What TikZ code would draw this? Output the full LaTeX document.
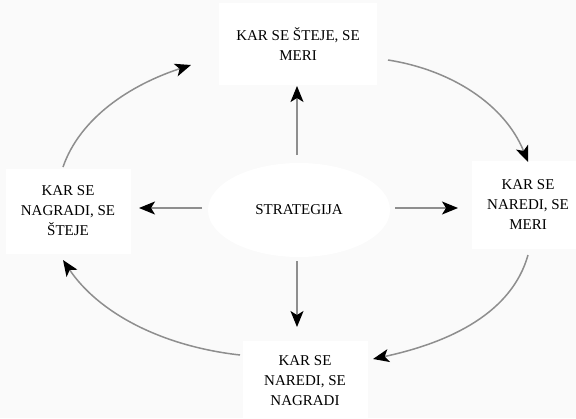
\documentclass[tikz,border=0pt]{standalone}
\usepackage{fontspec}
\setmainfont{Liberation Serif}
\usetikzlibrary{arrows.meta,shapes.geometric}
\definecolor{pagebg}{HTML}{FAFAFA}
\definecolor{linegray}{HTML}{8E8E8E}
\tikzset{
  box/.style={rectangle, fill=white, draw=none, align=center, inner sep=0pt,
    font=\fontsize{15}{20}\selectfont},
  arr/.style={draw=linegray, line width=1.5pt,
    -{Stealth[length=16pt,width=13pt,inset=4pt,color=black]}},
}
\begin{document}
\begin{tikzpicture}[x=1pt,y=-1pt]
  \fill[pagebg] (0,0) rectangle (576,418);
  \useasboundingbox (0,0) rectangle (576,418);

  % centre ellipse and the four statement boxes
  \node[ellipse, fill=white, minimum width=182pt, minimum height=94pt,
        font=\fontsize{15}{20}\selectfont] (str) at (299,210) {STRATEGIJA};
  \node[box, minimum width=158pt, minimum height=82pt] (top) at (298,44)
    {KAR SE ŠTEJE, SE\\MERI};
  \node[box, minimum width=125pt, minimum height=85pt] (left) at (68,211)
    {KAR SE\\NAGRADI, SE\\ŠTEJE};
  \node[box, minimum width=112pt, minimum height=88pt] (right) at (528,205)
    {KAR SE\\NAREDI, SE\\MERI};
  \node[box, minimum width=125pt, minimum height=80pt] (bottom) at (305,381)
    {KAR SE\\NAREDI, SE\\NAGRADI};

  % arrows out of the strategy
  \coordinate (su) at (297,155);
  \coordinate (sl) at (202,208);
  \coordinate (sr) at (395,208);
  \coordinate (sd) at (297,261);
  \draw[arr] (su) -- (297,86) coordinate (tu);
  \draw[arr] (sl) -- (139,208) coordinate (tl);
  \draw[arr] (sr) -- (458,208) coordinate (tr);
  \draw[arr] (sd) -- (297,327) coordinate (td);

  % the cycle around the boxes
  \coordinate (c1a) at (63,167);
  \coordinate (c1b) at (191,65);
  \coordinate (c2a) at (388,60);
  \coordinate (c2b) at (528,162);
  \coordinate (c3a) at (528,255);
  \coordinate (c3b) at (373,359);
  \coordinate (c4a) at (240,355);
  \coordinate (c4b) at (63,260);
  \draw[arr] (c1a) .. controls (80,118) and (130,85) .. (c1b);
  \draw[arr] (c2a) .. controls (452,70) and (505,105) .. (c2b);
  \draw[arr] (c3a) .. controls (512,312) and (452,342) .. (c3b);
  \draw[arr] (c4a) .. controls (160,346) and (98,312) .. (c4b);
\end{tikzpicture}
\end{document}
